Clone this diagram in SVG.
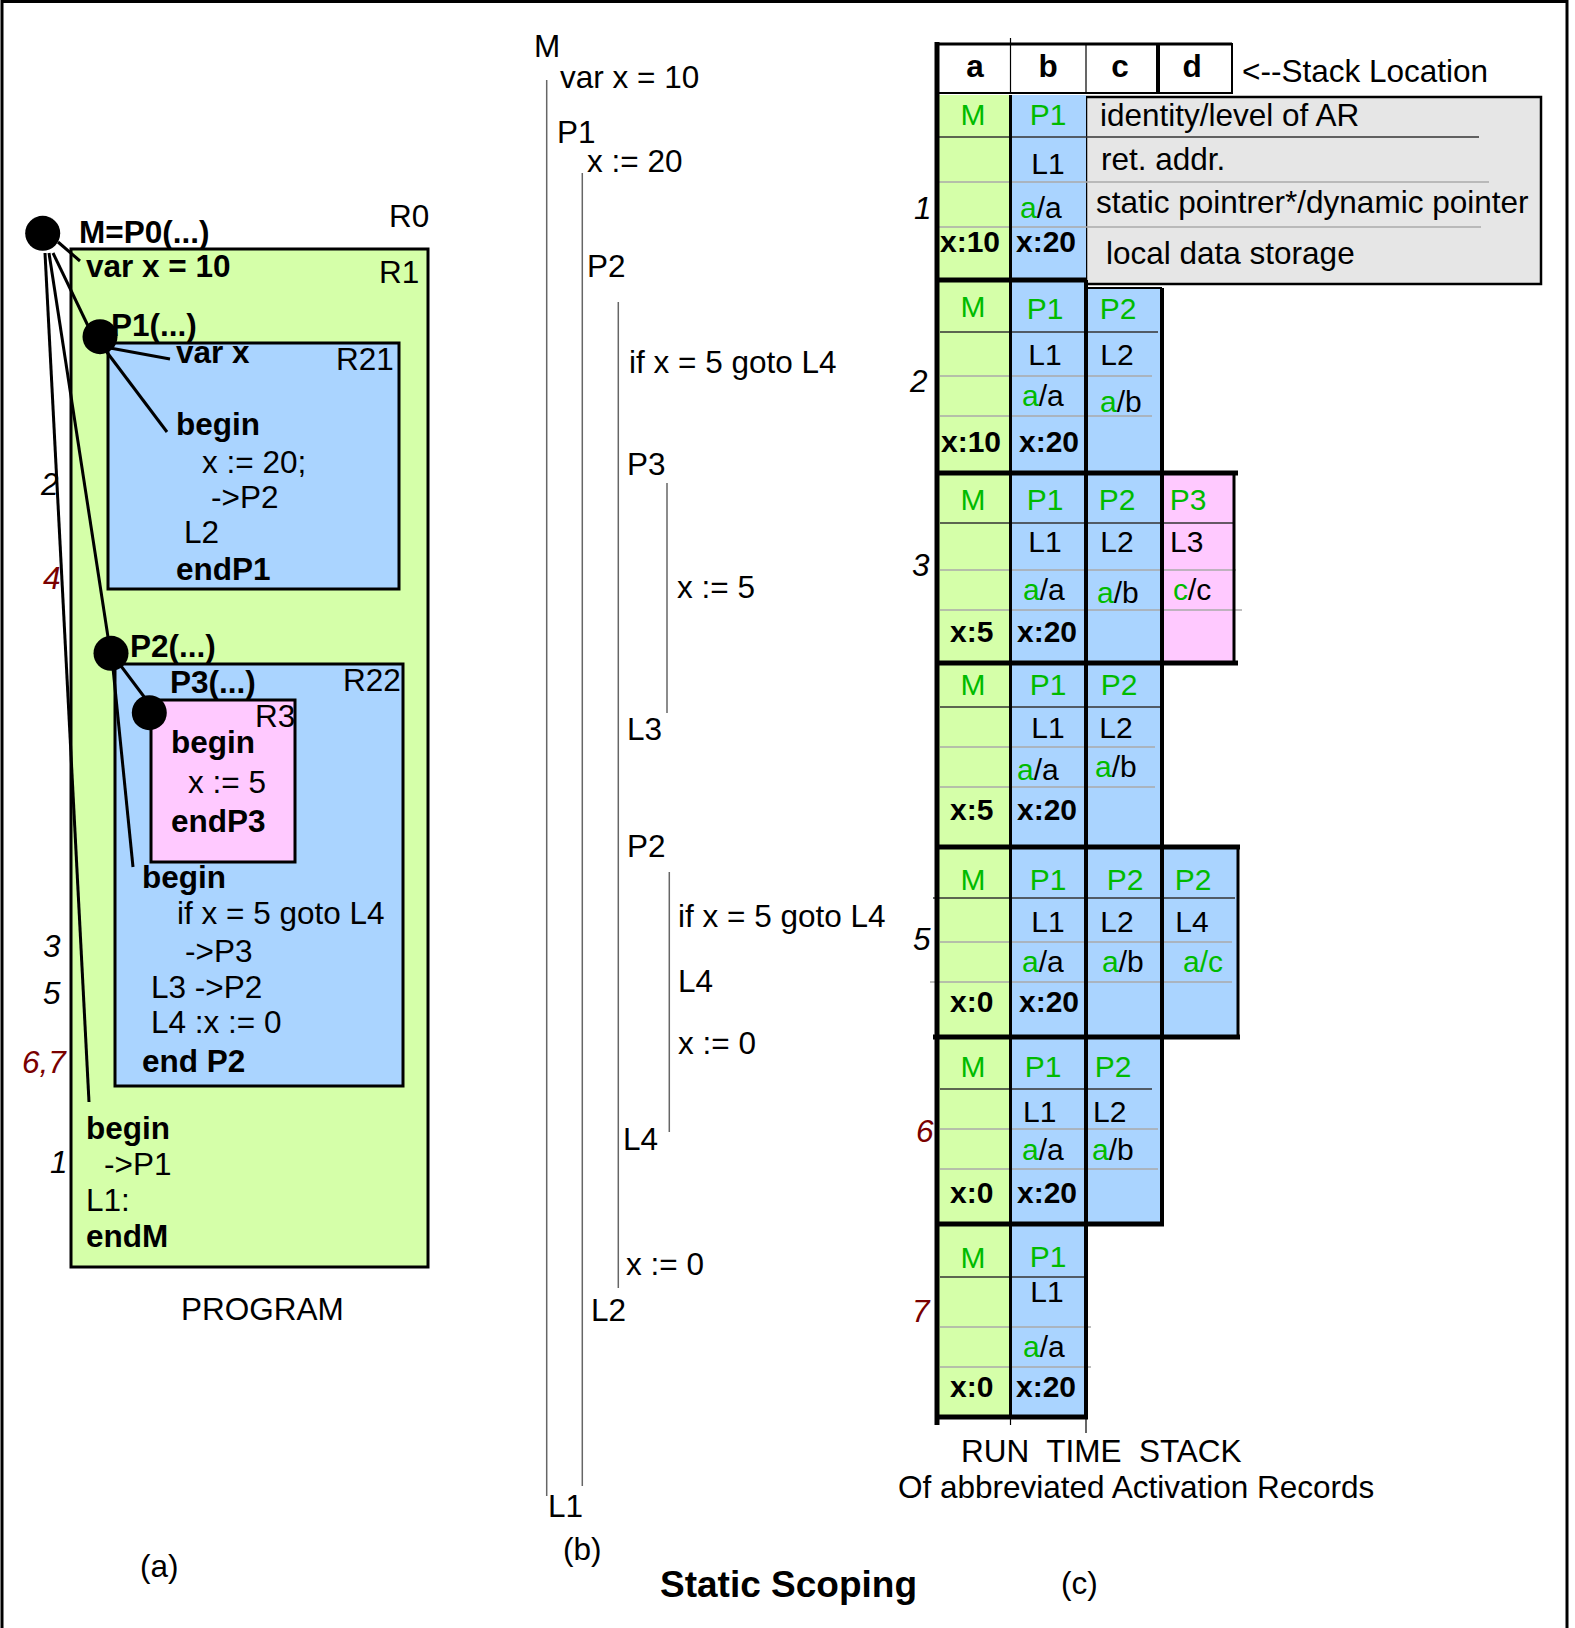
<svg xmlns="http://www.w3.org/2000/svg" width="1575" height="1628" viewBox="0 0 1575 1628">
<style>
text{font-family:"Liberation Sans",Arial,sans-serif;font-size:31.5px;fill:#000}
.b{font-weight:bold}
.i{font-style:italic}
.r{fill:#7a0000}
.g{fill:#00bb00}
.c{font-size:30px}
.m{text-anchor:middle}
.t{font-size:37px;font-weight:bold}
.box{stroke:#000;stroke-width:3}
.gr{fill:#d5ffa9}
.bl{fill:#aad4ff}
.pk{fill:#ffc9ff}
.con line{stroke:#000;stroke-width:3}
.vl{stroke:#666;stroke-width:1.5}
.dk{stroke:#333;stroke-width:1.5}
.lt{stroke:#aaa;stroke-width:1.5}
.th{stroke:#000;stroke-width:5}
.md{stroke:#000;stroke-width:3}
.tn{stroke:#000;stroke-width:1.2}
</style>
<rect x="2" y="1.5" width="1565" height="1640" fill="none" stroke="#000" stroke-width="3"/>

<!-- (a) program -->
<g id="R1">
<rect class="box gr" x="71" y="249" width="357" height="1018"/>
<text x="379" y="283">R1</text>
<text class="b" x="86" y="277">var x = 10</text>
<text class="b" x="86" y="1139">begin</text>
<text x="104" y="1175">-&gt;P1</text>
<text x="86" y="1211">L1:</text>
<text class="b" x="86" y="1247">endM</text>
</g>
<g id="R0"><text x="389" y="227">R0</text></g>
<g id="R21">
<rect class="box bl" x="108" y="343" width="291" height="246"/>
<text class="b" x="176" y="363">var x</text>
<text x="336" y="370">R21</text>
<text class="b" x="176" y="435">begin</text>
<text x="202" y="473">x := 20;</text>
<text x="211" y="508">-&gt;P2</text>
<text x="184" y="543">L2</text>
<text class="b" x="176" y="580">endP1</text>
</g>
<g id="R22">
<rect class="box bl" x="115" y="664" width="288" height="422"/>
<text x="343" y="691">R22</text>
<text class="b" x="170" y="693">P3(...)</text>
<text class="b" x="142" y="888">begin</text>
<text x="177" y="924">if x = 5 goto L4</text>
<text x="185" y="962">-&gt;P3</text>
<text x="151" y="998">L3 -&gt;P2</text>
<text x="151" y="1033">L4 :x := 0</text>
<text class="b" x="142" y="1072">end P2</text>
</g>
<g id="R3">
<rect class="box pk" x="151" y="700" width="144" height="162"/>
<text x="255" y="727">R3</text>
<text class="b" x="171" y="753">begin</text>
<text x="188" y="793">x := 5</text>
<text class="b" x="171" y="832">endP3</text>
</g>
<g id="connectors" class="con">
<line x1="58" y1="242" x2="80" y2="261"/>
<line x1="53" y1="253" x2="90" y2="330"/>
<line x1="49" y1="253" x2="110" y2="650"/>
<line x1="45" y1="253" x2="89" y2="1102"/>
<line x1="110" y1="348" x2="170" y2="359"/>
<line x1="106" y1="351" x2="167" y2="432"/>
<line x1="118" y1="662" x2="145" y2="698"/>
<line x1="113" y1="668" x2="133" y2="867"/>
</g>
<g id="dotM"><circle cx="42.7" cy="233.3" r="17.5"/><text class="b" x="79" y="243">M=P0(...)</text></g>
<g id="dotP1"><circle cx="100" cy="336.7" r="17.5"/><text class="b" x="111" y="336">P1(...)</text></g>
<g id="dotP2"><circle cx="111" cy="653.3" r="17.5"/><text class="b" x="130" y="657">P2(...)</text></g>
<g id="dotP3"><circle cx="149.3" cy="712.7" r="17.5"/></g>
<g id="steps-a">
<text class="i" x="41" y="495">2</text>
<text class="i r" x="43" y="589">4</text>
<text class="i" x="43" y="957">3</text>
<text class="i" x="43" y="1004">5</text>
<text class="i r" x="22" y="1073">6,7</text>
<text class="i" x="50" y="1173">1</text>
</g>
<text x="181" y="1320">PROGRAM</text>
<text x="140" y="1577">(a)</text>

<!-- (b) -->
<g id="panel-b">
<line class="vl" x1="546.7" y1="80" x2="546.7" y2="1496"/>
<line class="vl" x1="582.3" y1="173" x2="582.3" y2="1486"/>
<line class="vl" x1="618.3" y1="302" x2="618.3" y2="1288"/>
<line class="vl" x1="667" y1="483" x2="667" y2="713"/>
<line class="vl" x1="669.3" y1="872" x2="669.3" y2="1132"/>
<text x="534" y="57">M</text>
<text x="560" y="88">var x = 10</text>
<text x="557" y="143">P1</text>
<text x="587" y="172">x := 20</text>
<text x="587" y="277">P2</text>
<text x="629" y="373">if x = 5 goto L4</text>
<text x="627" y="475">P3</text>
<text x="677" y="598">x := 5</text>
<text x="627" y="740">L3</text>
<text x="627" y="857">P2</text>
<text x="678" y="927">if x = 5 goto L4</text>
<text x="678" y="992">L4</text>
<text x="678" y="1054">x := 0</text>
<text x="623" y="1150">L4</text>
<text x="626" y="1275">x := 0</text>
<text x="591" y="1321">L2</text>
<text x="548" y="1517">L1</text>
<text x="563" y="1560">(b)</text>
</g>
<text class="t" x="660" y="1597">Static Scoping</text>
<text x="1061" y="1594">(c)</text>

<!-- (c) stack -->
<g id="header">
<rect x="937" y="44" width="295" height="49" fill="#fff" stroke="#000" stroke-width="2"/>
<line class="tn" x1="1010.5" y1="38" x2="1010.5" y2="93"/>
<line class="tn" x1="1086" y1="44" x2="1086" y2="93"/>
<line class="th" x1="1158" y1="44" x2="1158" y2="93" style="stroke-width:4"/>
<line class="md" x1="937" y1="44" x2="1232" y2="44"/>
<text class="b m" x="975" y="77">a</text>
<text class="b m" x="1048" y="77">b</text>
<text class="b m" x="1120" y="77">c</text>
<text class="b m" x="1192" y="77">d</text>
<text x="1242" y="82">&lt;--Stack Location</text>
</g>
<g id="legend">
<rect x="1086" y="97" width="455" height="187" fill="#e6e6e6" stroke="#000" stroke-width="2.5"/>
<text x="1100" y="126">identity/level of AR</text>
<text x="1101" y="170">ret. addr.</text>
<text x="1096" y="213">static pointrer*/dynamic pointer</text>
<text x="1106" y="264">local data storage</text>
</g>
<g id="frame1">
<rect class="gr" x="937" y="95" width="73" height="185"/>
<rect class="bl" x="1010" y="95" width="76" height="185"/>
<line class="dk" x1="937" y1="137" x2="1479" y2="137"/>
<line class="lt" x1="937" y1="182" x2="1489" y2="182"/>
<line class="lt" x1="937" y1="227" x2="1481" y2="227"/>
<text class="c g m" x="973" y="125">M</text>
<text class="c g m" x="1048" y="125">P1</text>
<text class="c m" x="1048" y="174">L1</text>
<text class="c" x="1020" y="218"><tspan class="g">a</tspan>/a</text>
<text class="c b" x="940" y="252">x:10</text>
<text class="c b" x="1016" y="252">x:20</text>
<text class="i" x="914" y="219">1</text>
</g>
<g id="frame2">
<rect class="gr" x="937" y="280" width="73" height="193"/>
<rect class="bl" x="1010" y="280" width="76" height="193"/>
<rect class="bl" x="1086" y="288" width="76" height="185"/>
<line class="dk" x1="940" y1="332" x2="1158" y2="332"/>
<line class="lt" x1="940" y1="376" x2="1152" y2="376"/>
<line class="lt" x1="940" y1="416" x2="1152" y2="416"/>
<line class="md" x1="1086" y1="288" x2="1162" y2="288" style="stroke-width:2"/>
<text class="c g m" x="973" y="317">M</text>
<text class="c g m" x="1045" y="319">P1</text>
<text class="c g m" x="1118" y="319">P2</text>
<text class="c m" x="1045" y="365">L1</text>
<text class="c m" x="1117" y="365">L2</text>
<text class="c" x="1022" y="406"><tspan class="g">a</tspan>/a</text>
<text class="c" x="1100" y="412"><tspan class="g">a</tspan>/b</text>
<text class="c b" x="941" y="452">x:10</text>
<text class="c b" x="1019" y="452">x:20</text>
<text class="i" x="910" y="392">2</text>
</g>
<g id="frame3">
<rect class="gr" x="937" y="473" width="73" height="190"/>
<rect class="bl" x="1010" y="473" width="152" height="190"/>
<rect class="pk" x="1162" y="473" width="72" height="190"/>
<line class="dk" x1="940" y1="523" x2="1234" y2="523"/>
<line class="lt" x1="940" y1="570" x2="1236" y2="570"/>
<line class="lt" x1="940" y1="610" x2="1242" y2="610"/>
<text class="c g m" x="973" y="510">M</text>
<text class="c g m" x="1045" y="510">P1</text>
<text class="c g m" x="1117" y="510">P2</text>
<text class="c g m" x="1188" y="510">P3</text>
<text class="c m" x="1045" y="552">L1</text>
<text class="c m" x="1117" y="552">L2</text>
<text class="c" x="1170" y="552">L3</text>
<text class="c" x="1023" y="600"><tspan class="g">a</tspan>/a</text>
<text class="c" x="1097" y="603"><tspan class="g">a</tspan>/b</text>
<text class="c" x="1173" y="600"><tspan class="g">c</tspan>/c</text>
<text class="c b" x="950" y="642">x:5</text>
<text class="c b" x="1017" y="642">x:20</text>
<text class="i" x="912" y="576">3</text>
</g>
<g id="frame4">
<rect class="gr" x="937" y="663" width="73" height="184"/>
<rect class="bl" x="1010" y="663" width="152" height="184"/>
<line class="dk" x1="940" y1="707" x2="1162" y2="707"/>
<line class="lt" x1="940" y1="747" x2="1155" y2="747"/>
<line class="lt" x1="940" y1="787" x2="1155" y2="787"/>
<text class="c g m" x="973" y="695">M</text>
<text class="c g m" x="1048" y="695">P1</text>
<text class="c g m" x="1119" y="695">P2</text>
<text class="c m" x="1048" y="738">L1</text>
<text class="c m" x="1116" y="738">L2</text>
<text class="c" x="1017" y="780"><tspan class="g">a</tspan>/a</text>
<text class="c" x="1095" y="777"><tspan class="g">a</tspan>/b</text>
<text class="c b" x="950" y="820">x:5</text>
<text class="c b" x="1017" y="820">x:20</text>
</g>
<g id="frame5">
<rect class="gr" x="937" y="847" width="73" height="190"/>
<rect class="bl" x="1010" y="847" width="228" height="190"/>
<line class="dk" x1="933" y1="898" x2="1235" y2="898"/>
<line class="lt" x1="940" y1="942" x2="1232" y2="942"/>
<line class="lt" x1="930" y1="982" x2="1232" y2="982"/>
<text class="c g m" x="973" y="890">M</text>
<text class="c g m" x="1048" y="890">P1</text>
<text class="c g m" x="1125" y="890">P2</text>
<text class="c g m" x="1193" y="890">P2</text>
<text class="c m" x="1048" y="932">L1</text>
<text class="c m" x="1117" y="932">L2</text>
<text class="c m" x="1192" y="932">L4</text>
<text class="c" x="1022" y="972"><tspan class="g">a</tspan>/a</text>
<text class="c" x="1102" y="972"><tspan class="g">a</tspan>/b</text>
<text class="c g" x="1183" y="972">a/c</text>
<text class="c b" x="950" y="1012">x:0</text>
<text class="c b" x="1019" y="1012">x:20</text>
<text class="i" x="913" y="950">5</text>
</g>
<g id="frame6">
<rect class="gr" x="937" y="1037" width="73" height="187"/>
<rect class="bl" x="1010" y="1037" width="152" height="187"/>
<line class="dk" x1="940" y1="1089" x2="1152" y2="1089"/>
<line class="lt" x1="940" y1="1129" x2="1158" y2="1129"/>
<line class="lt" x1="940" y1="1169" x2="1158" y2="1169"/>
<text class="c g m" x="973" y="1077">M</text>
<text class="c g m" x="1043" y="1077">P1</text>
<text class="c g m" x="1113" y="1077">P2</text>
<text class="c" x="1023" y="1122">L1</text>
<text class="c" x="1093" y="1122">L2</text>
<text class="c" x="1022" y="1160"><tspan class="g">a</tspan>/a</text>
<text class="c" x="1092" y="1160"><tspan class="g">a</tspan>/b</text>
<text class="c b" x="950" y="1203">x:0</text>
<text class="c b" x="1017" y="1203">x:20</text>
<text class="i r" x="916" y="1142">6</text>
</g>
<g id="frame7">
<rect class="gr" x="937" y="1224" width="73" height="193"/>
<rect class="bl" x="1010" y="1224" width="76" height="193"/>
<line class="dk" x1="940" y1="1277" x2="1087" y2="1277"/>
<line class="lt" x1="940" y1="1327" x2="1091" y2="1327"/>
<line class="lt" x1="940" y1="1367" x2="1091" y2="1367"/>
<text class="c g m" x="973" y="1268">M</text>
<text class="c g m" x="1048" y="1267">P1</text>
<text class="c m" x="1047" y="1302">L1</text>
<text class="c" x="1023" y="1357"><tspan class="g">a</tspan>/a</text>
<text class="c b" x="950" y="1397">x:0</text>
<text class="c b" x="1016" y="1397">x:20</text>
<text class="i r" x="912" y="1322">7</text>
</g>
<g id="stack-borders">
<line class="th" x1="937" y1="42" x2="937" y2="1425"/>
<line class="md" x1="1010.5" y1="95" x2="1010.5" y2="1417"/>
<line class="th" x1="1086" y1="280" x2="1086" y2="1417" style="stroke-width:4"/>
<line class="th" x1="1162" y1="288" x2="1162" y2="1224" style="stroke-width:4"/>
<line class="md" x1="1234" y1="473" x2="1234" y2="663"/>
<line class="md" x1="1238" y1="847" x2="1238" y2="1037"/>
<line class="th" x1="937" y1="280" x2="1086" y2="280"/>
<line class="th" x1="937" y1="473" x2="1238" y2="473"/>
<line class="th" x1="937" y1="663" x2="1238" y2="663"/>
<line class="th" x1="937" y1="847" x2="1240" y2="847"/>
<line class="th" x1="933" y1="1037" x2="1240" y2="1037"/>
<line class="th" x1="937" y1="1224" x2="1164" y2="1224"/>
<line class="th" x1="937" y1="1417" x2="1088" y2="1417"/>
<line class="tn" x1="1010.5" y1="1417" x2="1010.5" y2="1425"/>
<line class="tn" x1="1086" y1="1417" x2="1086" y2="1433"/>
</g>
<text x="961" y="1462" xml:space="preserve">RUN  TIME  STACK</text>
<text x="898" y="1498">Of abbreviated Activation Records</text>
</svg>
